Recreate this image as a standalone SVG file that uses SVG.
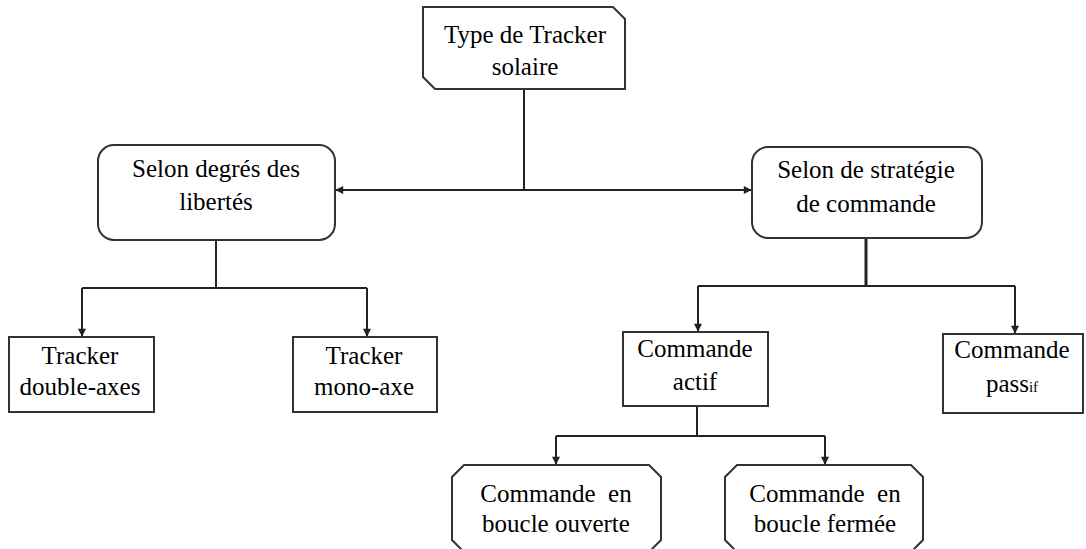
<svg xmlns="http://www.w3.org/2000/svg" width="1086" height="549" viewBox="0 0 1086 549">
<defs>
<marker id="arr" viewBox="0 0 10 10" refX="9" refY="5" markerWidth="9" markerHeight="8" orient="auto-start-reverse" markerUnits="userSpaceOnUse">
<path d="M0,0 L10,5 L0,10 z" fill="#222"/>
</marker>
<style>
.box{fill:#fff;stroke:#333;stroke-width:2}
.t{font-family:"Liberation Serif","Times New Roman","DejaVu Serif",serif;font-size:25px;fill:#000;text-anchor:middle}
.c{fill:none;stroke:#222;stroke-width:2}
</style>
</defs>
<rect width="1086" height="549" fill="#fff"/>
<g id="connectors">
<path class="c" d="M524,89 V190"/>
<path class="c" d="M336,190 H751" marker-start="url(#arr)" marker-end="url(#arr)"/>
<path class="c" d="M216,240 V288"/>
<path class="c" d="M82,288 H367"/>
<path class="c" d="M82,288 V336" marker-end="url(#arr)"/>
<path class="c" d="M367,288 V336" marker-end="url(#arr)"/>
<path class="c" d="M866,238 V286" style="stroke-width:3"/>
<path class="c" d="M698,286 H1015"/>
<path class="c" d="M698,286 V331" marker-end="url(#arr)"/>
<path class="c" d="M1015,286 V333" marker-end="url(#arr)"/>
<path class="c" d="M697,406 V436"/>
<path class="c" d="M556,436 H825"/>
<path class="c" d="M556,436 V464" marker-end="url(#arr)"/>
<path class="c" d="M825,436 V464" marker-end="url(#arr)"/>
</g>
<g id="n-type">
<path class="box" d="M423,7 H613 L625,19 V89 H435 L423,77 Z"/>
<text class="t" x="525" y="43">Type de Tracker</text>
<text class="t" x="525" y="75">solaire</text>
</g>
<g id="n-degres">
<rect class="box" x="98" y="145" width="237" height="95" rx="16"/>
<text class="t" x="216" y="177">Selon degrés des</text>
<text class="t" x="216" y="210">libertés</text>
</g>
<g id="n-strategie">
<rect class="box" x="752" y="147" width="230" height="91" rx="16"/>
<text class="t" x="866" y="178">Selon de stratégie</text>
<text class="t" x="866" y="212">de commande</text>
</g>
<g id="n-double">
<rect class="box" x="9" y="337" width="145" height="75"/>
<text class="t" x="80" y="364">Tracker</text>
<text class="t" x="80" y="395">double-axes</text>
</g>
<g id="n-mono">
<rect class="box" x="293" y="337" width="144" height="75"/>
<text class="t" x="364" y="364">Tracker</text>
<text class="t" x="364" y="395">mono-axe</text>
</g>
<g id="n-actif">
<rect class="box" x="623" y="332" width="145" height="74"/>
<text class="t" x="695" y="357">Commande</text>
<text class="t" x="695" y="390">actif</text>
</g>
<g id="n-passif">
<rect class="box" x="943" y="334" width="140" height="79"/>
<text class="t" x="1012" y="358">Commande</text>
<text class="t" x="1012" y="392">pass<tspan style="font-size:15px">if</tspan></text>
</g>
<g id="n-ouverte">
<path class="box" d="M464,465 H649 L661,477 V540 L649,552 H464 L452,540 V477 Z"/>
<text class="t" x="556" y="502" style="white-space:pre">Commande  en</text>
<text class="t" x="556" y="532">boucle ouverte</text>
</g>
<g id="n-fermee">
<path class="box" d="M737,465 H911 L923,477 V540 L911,552 H737 L725,540 V477 Z"/>
<text class="t" x="825" y="502" style="white-space:pre">Commande  en</text>
<text class="t" x="825" y="532">boucle fermée</text>
</g>
</svg>
